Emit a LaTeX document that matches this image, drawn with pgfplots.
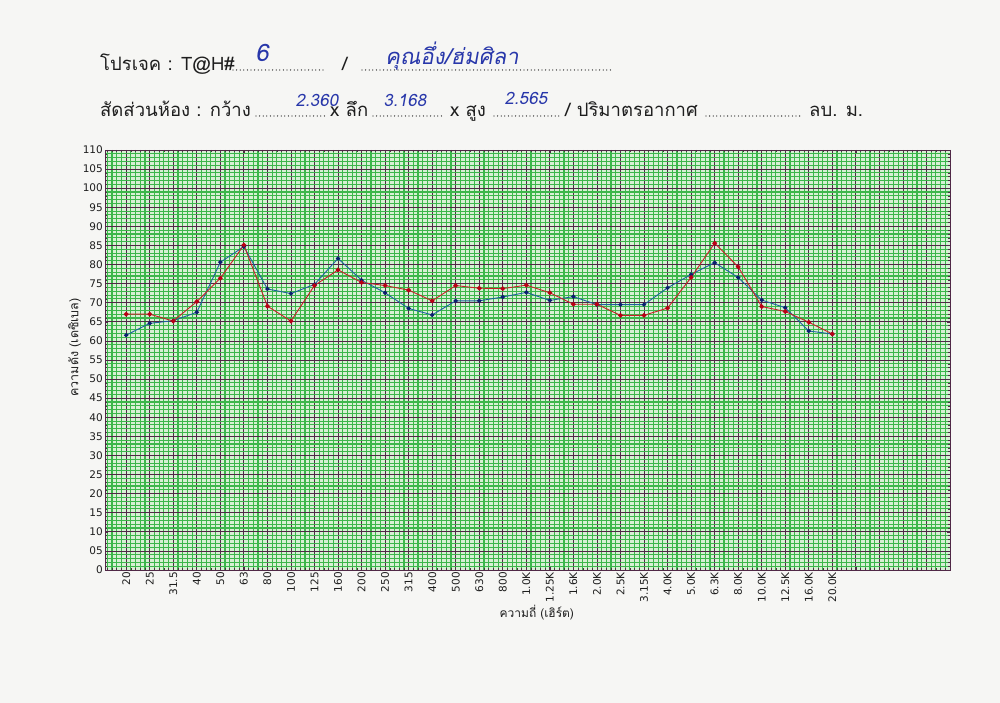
\documentclass[border=0pt]{standalone}
\usepackage{fontspec}
\usepackage{pgfplots}
\usepackage{pgfplotstable}
\pgfplotsset{compat=1.18}
\setmainfont{DejaVu Sans}
\newfontfamily\thai[Script=Thai]{Loma}
\newfontfamily\hand[Script=Thai,FakeSlant=0.18]{Loma}
\definecolor{paper}{RGB}{246,246,244}
\definecolor{gbg}{RGB}{215,240,212}
\definecolor{gmin}{RGB}{60,182,75}
\definecolor{gmaj}{RGB}{80,40,70}
\definecolor{redl}{RGB}{200,30,40}
\definecolor{redm}{RGB}{185,0,20}
\definecolor{bluel}{RGB}{30,95,160}
\definecolor{bluem}{RGB}{10,30,110}
\definecolor{ink}{RGB}{40,55,170}
\definecolor{txt}{RGB}{30,30,30}

\pgfplotstableread{
x red blue
0 67.0 61.5
1 67.0 64.6
2 65.2 65.3
3 70.3 67.5
4 76.4 80.6
5 85.1 84.7
6 69.1 73.6
7 65.2 72.4
8 74.5 74.8
9 78.6 81.6
10 75.3 75.9
11 74.5 72.6
12 73.3 68.5
13 70.5 66.8
14 74.5 70.5
15 73.8 70.5
16 73.7 71.5
17 74.6 72.7
18 72.6 70.6
19 69.6 71.6
20 69.6 69.5
21 66.7 69.5
22 66.7 69.5
23 68.6 73.9
24 76.6 77.4
25 85.6 80.5
26 79.4 76.6
27 69.0 70.7
28 67.7 68.7
29 64.9 62.6
30 61.8 61.8
}\spl

% minor tick lists that avoid the major positions
\xdef\mx{-0.8,-0.6,-0.4,-0.2}
\foreach \i in {0,...,34}{%
  \xdef\mx{\mx,\i.2,\i.4,\i.6,\i.8}%
}
\xdef\my{1,2,3,4}
\foreach \i in {5,10,...,105}{%
  \pgfmathtruncatemacro\a{\i+1}\pgfmathtruncatemacro\b{\i+2}%
  \pgfmathtruncatemacro\c{\i+3}\pgfmathtruncatemacro\d{\i+4}%
  \xdef\my{\my,\a,\b,\c,\d}%
}

\begin{document}
\begin{tikzpicture}[x=1pt,y=1pt]
\useasboundingbox (0,0) rectangle (1000,703);
\fill[paper] (0,0) rectangle (1000,703);

\tikzset{dots/.style={txt,line width=1.3pt,line cap=round,dash pattern=on 0pt off 3.6pt},
  hd/.style={anchor=base west,inner sep=0,text=txt,font=\thai\fontsize{18.5}{22}\selectfont}}
% header line 1
\node[hd] at (100,632) {โปรเจค : T@H\#};
\draw[dots] (233,633) -- (325,633);
\node[hd] at (342,632) {/};
\draw[dots] (362,633) -- (612,633);
\node[text=ink] at (262,650) {\hand\fontsize{24}{28}\selectfont 6};
\node[text=ink] at (452,647) {\hand\fontsize{22}{26}\selectfont คุณอึ่ง/ฮ่มศิลา};

% header line 2
\node[hd] at (100,586) {สัดส่วนห้อง : กว้าง};
\draw[dots] (256,587) -- (325,587);
\node[hd] at (330,586) {x ลึก};
\draw[dots] (373,587) -- (445,587);
\node[hd] at (450,586) {x สูง};
\draw[dots] (494,587) -- (560,587);
\node[hd] at (565,586) {/ ปริมาตรอากาศ};
\draw[dots] (706,587) -- (800,587);
\node[hd] at (809,586) {ลบ. ม.};
\node[text=ink] at (317,603) {\hand\fontsize{17}{20}\selectfont 2.360};
\node[text=ink] at (405,603) {\hand\fontsize{17}{20}\selectfont 3.168};
\node[text=ink] at (526,605) {\hand\fontsize{17}{20}\selectfont 2.565};

\begin{axis}[
  at={(105pt,133pt)}, anchor=south west,
  scale only axis, width=845pt, height=420pt,
  xmin=-0.9, xmax=35, ymin=0, ymax=110,
  axis background/.style={fill=gbg},
  axis line style={gmaj,line width=0.9pt},
  xtick={0,...,35},
  xticklabels={20,25,31.5,40,50,63,80,100,125,160,200,250,315,400,500,630,800,1.0K,1.25K,1.6K,2.0K,2.5K,3.15K,4.0K,5.0K,6.3K,8.0K,10.0K,12.5K,16.0K,20.0K,,,,,},
  minor xtick=\mx,
  ytick={0,5,...,110},
  yticklabels={0,05,10,15,20,25,30,35,40,45,50,55,60,65,70,75,80,85,90,95,100,105,110},
  minor ytick=\my,
  grid=both,
  minor grid style={gmin,line width=1.15pt},
  major grid style={gmaj,line width=0.8pt},
  tick style={gmaj,line width=0.6pt},
  major tick length=3pt, minor tick length=2pt,
  xticklabel style={rotate=90,anchor=east,font=\fontsize{10.5}{12}\selectfont,text=txt,inner sep=2pt},
  yticklabel style={font=\fontsize{10.5}{12}\selectfont,text=txt,inner sep=2pt},
  /pgf/number format/assume math mode=true,
  xlabel={\thai\fontsize{12}{14}\selectfont ความถี่ (เฮิร์ต)},
  ylabel={\thai\fontsize{12.5}{14}\selectfont ความดัง (เดซิเบล)},
  xlabel style={at={(axis description cs:0.511,-0.102)},anchor=center,text=txt},
  ylabel style={at={(axis description cs:-0.036,0.53)},anchor=center,rotate=0,text=txt},
  clip=false,
]
\addplot[bluel,line width=0.9pt,mark=*,mark size=1.7pt,mark options={fill=bluem,draw=bluem}] table[x=x,y=blue] {\spl};
\addplot[redl,line width=0.9pt,mark=*,mark size=1.9pt,mark options={fill=redm,draw=redm}] table[x=x,y=red] {\spl};
\end{axis}
\end{tikzpicture}
\end{document}
